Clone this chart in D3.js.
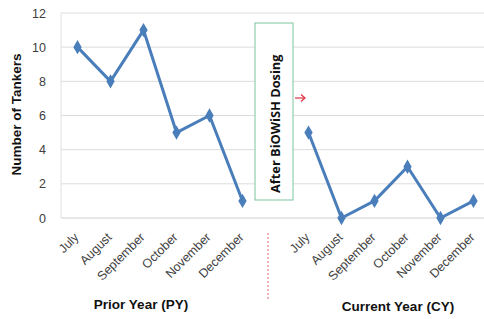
<!DOCTYPE html>
<html>
<head>
<meta charset="utf-8">
<script src="https://cdn.jsdelivr.net/npm/d3@7"></script>
<style>
  body { margin: 0; background: #fff; }
  svg { display: block; font-family: "Liberation Sans", Arial, sans-serif; }
</style>
</head>
<body>
<svg id="chart" width="484" height="319"></svg>
<script>
// data
const months = ["July", "August", "September", "October", "November", "December"]
const priorYear = [10, 8, 11, 5, 6, 1]
const currentYear = [5, 0, 1, 3, 0, 1]
const yTicks = [0, 2, 4, 6, 8, 10, 12]

// 13 slots: 6 PY months, one empty gap, 6 CY months
const slots = [...months.map(m => "PY " + m), "gap", ...months.map(m => "CY " + m)]

const svg = d3.select("#chart")
const plotLeft = 61, plotRight = 490, plotTop = 13, plotBottom = 218

const x = d3.scaleBand().domain(slots).range([plotLeft, plotRight])
const y = d3.scaleLinear().domain([0, 12]).range([plotBottom, plotTop])
const cx = s => x(s) + x.bandwidth() / 2

// gridlines
svg.append("g").selectAll("line")
    .data(yTicks).join("line")
    .attr("x1", plotLeft).attr("x2", 484)
    .attr("y1", d => y(d)).attr("y2", d => y(d))
    .attr("stroke", d => d === 0 ? "#d0d0d0" : "#dcdcdc")
    .attr("stroke-width", 1)

svg.append("line")
    .attr("x1", plotLeft).attr("x2", plotLeft)
    .attr("y1", plotTop).attr("y2", plotBottom)
    .attr("stroke", "#e0e0e0")

// y axis labels
svg.append("g").selectAll("text")
    .data(yTicks).join("text")
    .attr("x", 46).attr("y", d => y(d) + 4.5)
    .attr("text-anchor", "end")
    .attr("font-size", 12.5)
    .attr("fill", "#404040")
    .text(d => d)

svg.append("text")
    .attr("transform", `translate(21,114.5) rotate(-90)`)
    .attr("text-anchor", "middle")
    .attr("font-size", 13.5)
    .attr("font-weight", "bold")
    .attr("fill", "#111")
    .text("Number of Tankers")

// x labels rotated
const labelData = slots.map(s => ({slot: s, label: s === "gap" ? "" : s.slice(3)}))
svg.append("g").selectAll("text")
    .data(labelData).join("text")
    .attr("transform", d => `translate(${cx(d.slot) + 2},238) rotate(-45)`)
    .attr("text-anchor", "end")
    .attr("font-size", 12.5)
    .attr("fill", "#404040")
    .text(d => d.label)

// group titles
svg.append("text")
    .attr("x", 141).attr("y", 309)
    .attr("text-anchor", "middle")
    .attr("font-size", 13.5).attr("font-weight", "bold").attr("fill", "#111")
    .text("Prior Year (PY)")

svg.append("text")
    .attr("x", 398).attr("y", 311)
    .attr("text-anchor", "middle")
    .attr("font-size", 13.5).attr("font-weight", "bold").attr("fill", "#111")
    .text("Current Year (CY)")

// red dotted separator
svg.append("line")
    .attr("x1", 268).attr("x2", 268)
    .attr("y1", 233).attr("y2", 300)
    .attr("stroke", "#e06070")
    .attr("stroke-width", 1)
    .attr("stroke-dasharray", "2,2")

// lines
const series = [
    months.map((m, i) => ({slot: "PY " + m, v: priorYear[i]})),
    months.map((m, i) => ({slot: "CY " + m, v: currentYear[i]}))
]
const line = d3.line().x(d => cx(d.slot)).y(d => y(d.v))

svg.append("g").selectAll("path")
    .data(series).join("path")
    .attr("d", line)
    .attr("fill", "none")
    .attr("stroke", "#4a7ebb")
    .attr("stroke-width", 3)
    .attr("stroke-linejoin", "round")

svg.append("g").selectAll("path")
    .data(series.flat()).join("path")
    .attr("d", d3.symbol(d3.symbolDiamond, 60))
    .attr("transform", d => `translate(${cx(d.slot)},${y(d.v)})`)
    .attr("fill", "#4a7ebb")

// annotation box
svg.append("rect")
    .attr("x", 255).attr("y", 23)
    .attr("width", 38).attr("height", 177)
    .attr("fill", "#fff")
    .attr("stroke", "#7cc49a")
    .attr("stroke-width", 1)

svg.append("text")
    .attr("transform", `translate(280,193) rotate(-90)`)
    .attr("text-anchor", "start")
    .attr("font-family", "'Open Sans', sans-serif")
    .attr("font-size", 12.8)
    .attr("font-weight", 700)
    .attr("fill", "#111")
    .text("After BiOWiSH Dosing")

// red arrow
svg.append("line")
    .attr("x1", 295).attr("x2", 305)
    .attr("y1", 98).attr("y2", 98)
    .attr("stroke", "#e03040").attr("stroke-width", 1.2)
svg.append("path")
    .attr("d", "M301,94.5 L305,98 L301,101.5")
    .attr("fill", "none")
    .attr("stroke", "#e03040").attr("stroke-width", 1.2)
</script>
</body>
</html>
